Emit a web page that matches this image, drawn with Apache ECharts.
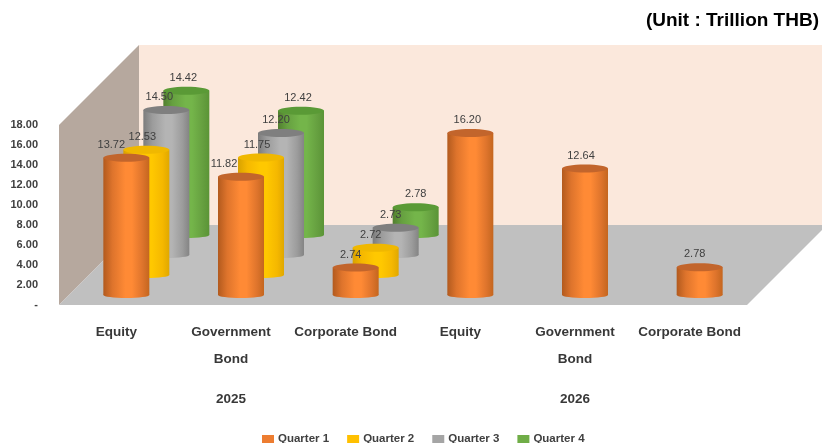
<!DOCTYPE html>
<html>
<head>
<meta charset="utf-8">
<style>html,body{margin:0;padding:0;background:#fff}#c{width:822px;height:443px}</style>
<script src="https://cdn.jsdelivr.net/npm/echarts@6/dist/echarts.min.js"></script>
</head>
<body>
<div id="c"></div>
<script>
const categories = ['Equity', 'Government\nBond', 'Corporate Bond', 'Equity', 'Government\nBond', 'Corporate Bond'];
const years = ['2025', '2026'];
const quarter1 = [13.72, 11.82, 2.74, 16.20, 12.64, 2.78];
const quarter2 = [12.53, 11.75, 2.72, null, null, null];
const quarter3 = [14.50, 12.20, 2.73, null, null, null];
const quarter4 = [14.42, 12.42, 2.78, null, null, null];
const quarterNames = ['Quarter 1', 'Quarter 2', 'Quarter 3', 'Quarter 4'];
const unitText = '(Unit : Trillion THB)';

const FONT = '"Liberation Sans", Arial, sans-serif';
const ROW_DEPTH = 20, ROWS = 4, RX = 23, RY_TOP = 4, RY_BOTTOM = 3;
const palette = [
  { flat: '#ED7D31', dark: '#B25A1E', mid: '#DE742C', light: '#FF8A35', edge: '#C4661F', top: '#C2652C' },
  { flat: '#FFC000', dark: '#D8A200', mid: '#F5B800', light: '#FFC800', edge: '#E0A800', top: '#F0B800' },
  { flat: '#A5A5A5', dark: '#7C7C7C', mid: '#9C9C9C', light: '#B4B4B4', edge: '#848484', top: '#7F7F7F' },
  { flat: '#70AD47', dark: '#527F30', mid: '#66A040', light: '#74B54A', edge: '#5A9436', top: '#5A9A36' }
];
// small sideways label nudges per quarter/category, to keep labels clear of one another
const labelNudge = [
  [-15, -17, -5, -3, -4, -5],
  [-4, -4, -5, 0, 0, 0],
  [-7, -5, -5, 0, 0, 0],
  [-3, -3, 0, 0, 0, 0]
];

function cylinder(q) {
  const c = palette[q];
  return function (params, api) {
    const cat = api.value(0), val = api.value(1);
    if (isNaN(val)) return null;
    const depth = ROW_DEPTH * (q + 0.5);
    const base = api.coord([cat, 0]);
    const top = api.coord([cat, val]);
    const x = base[0] + depth, yb = base[1] - depth, yt = top[1] - depth;
    const fill = new echarts.graphic.LinearGradient(0, 0, 1, 0, [
      { offset: 0, color: c.dark },
      { offset: 0.2, color: c.mid },
      { offset: 0.48, color: c.light },
      { offset: 0.62, color: c.light },
      { offset: 0.85, color: c.mid },
      { offset: 1, color: c.edge }
    ]);
    return {
      type: 'group',
      children: [
        { type: 'ellipse', shape: { cx: x, cy: yb, rx: RX, ry: RY_BOTTOM }, style: { fill: fill } },
        { type: 'rect', shape: { x: x - RX, y: yt, width: RX * 2, height: yb - yt }, style: { fill: fill } },
        { type: 'ellipse', shape: { cx: x, cy: yt, rx: RX, ry: RY_TOP }, style: { fill: c.top } },
        { type: 'text', style: {
            x: x + labelNudge[q][cat], y: yt - 13, text: val.toFixed(2),
            align: 'center', verticalAlign: 'middle',
            fill: '#404040', font: '11px ' + FONT
        } }
      ]
    };
  };
}

function frame(params, api) {
  const band = api.size([1, 0])[0];
  const depth = ROW_DEPTH * ROWS;
  const l = api.coord([0, 0])[0] - band / 2;
  const r = api.coord([categories.length - 1, 0])[0] + band / 2;
  const b = api.coord([0, 0])[1];
  const t = api.coord([0, 18])[1];
  return {
    type: 'group',
    children: [
      { type: 'rect', shape: { x: l + depth, y: t - depth, width: r - l, height: b - t }, style: { fill: '#FBE8DC' } },
      { type: 'polygon', shape: { points: [[l, t], [l + depth, t - depth], [l + depth, b - depth], [l, b]] }, style: { fill: '#B6A89E' } },
      { type: 'polygon', shape: { points: [[l, b], [r, b], [r + depth, b - depth], [l + depth, b - depth]] }, style: { fill: '#C0C0C0' } }
    ]
  };
}

const qData = [quarter1, quarter2, quarter3, quarter4];
const series = [{
  type: 'custom', name: 'frame', silent: true, z: 1, clip: false,
  renderItem: frame, data: [[0, 0]], encode: { x: 0, y: 1 }
}];
qData.forEach(function (vals, q) {
  series.push({
    type: 'custom', name: quarterNames[q], z: 10 - q, clip: false,
    itemStyle: { color: palette[q].flat },
    renderItem: cylinder(q),
    encode: { x: 0, y: 1 },
    data: vals.map(function (v, i) { return [i, v]; }).filter(function (d) { return d[1] !== null; })
  });
});

const chart = echarts.init(document.getElementById('c'), null, { renderer: 'canvas' });
chart.setOption({
  animation: false,
  backgroundColor: '#fff',
  textStyle: { fontFamily: FONT },
  title: {
    text: unitText, right: 3, top: 6, padding: [5, 0, 5, 0],
    textStyle: { fontFamily: FONT, fontSize: 19, fontWeight: 'bold', color: '#000' }
  },
  legend: {
    data: quarterNames, top: 433, left: 262, padding: 0,
    icon: 'rect', itemWidth: 12, itemHeight: 8, itemGap: 18,
    textStyle: { fontFamily: FONT, fontSize: 11.5, fontWeight: 'bold', color: '#404040', padding: [1, 0, 0, -1] }
  },
  grid: { left: 59, top: 125, width: 688, height: 180, containLabel: false },
  xAxis: [{
    type: 'category', data: categories, position: 'bottom',
    axisLine: { show: false }, axisTick: { show: false },
    axisLabel: { interval: 0, margin: 14, fontSize: 13.5, fontWeight: 'bold', color: '#383838', lineHeight: 27, fontFamily: FONT, verticalAlign: 'top' }
  }, {
    type: 'category', data: years, position: 'bottom', offset: 67,
    axisLine: { show: false }, axisTick: { show: false },
    axisLabel: { interval: 0, margin: 20, fontSize: 13.5, fontWeight: 'bold', color: '#383838', fontFamily: FONT }
  }],
  yAxis: {
    type: 'value', min: 0, max: 18, interval: 2,
    axisLine: { show: false }, axisTick: { show: false }, splitLine: { show: false },
    axisLabel: {
      margin: 21, fontSize: 11, fontWeight: 'bold', color: '#404040', fontFamily: FONT, padding: [4, 0, 0, 0],
      formatter: function (v) { return v === 0 ? '-' : v.toFixed(2); }
    }
  },
  series: series
});
</script>
</body>
</html>
